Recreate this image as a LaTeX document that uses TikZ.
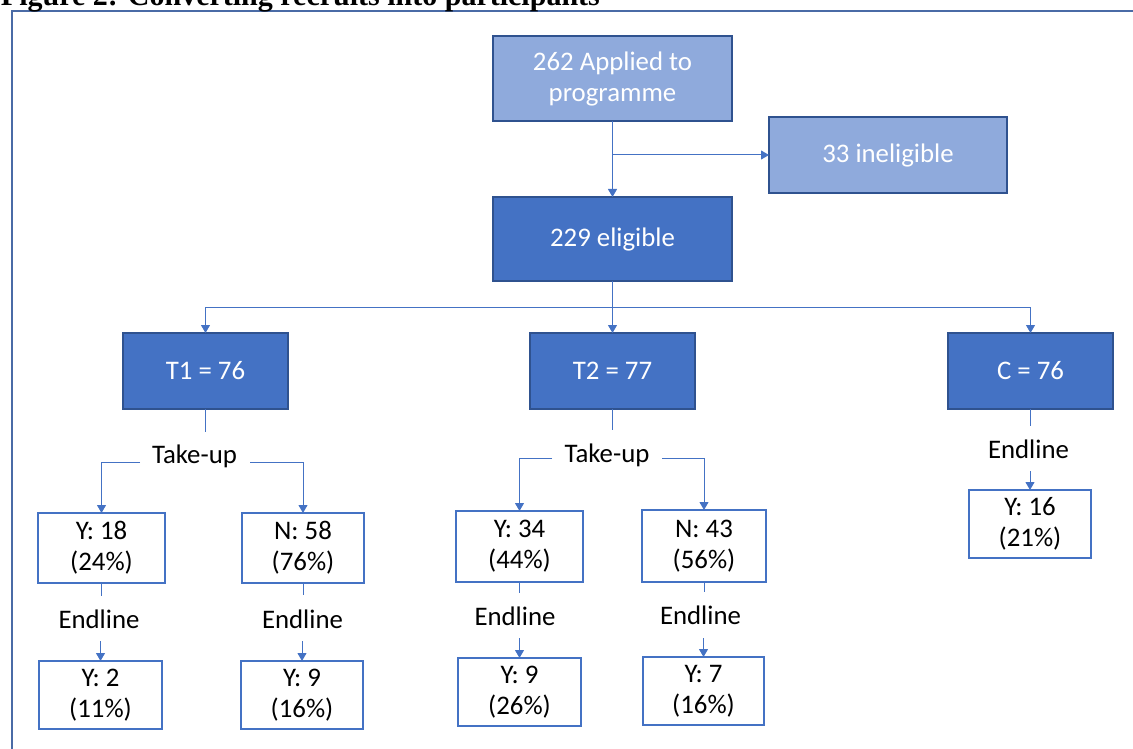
\documentclass[tikz,border=0pt]{standalone}
\usepackage{fontspec}
\setmainfont{Liberation Serif}
\newfontfamily\calibrifont{Carlito}
\usetikzlibrary{arrows.meta}
\definecolor{lightfill}{HTML}{8FAADC}
\definecolor{darkfill}{HTML}{4472C4}
\definecolor{boxedge}{HTML}{2F528F}
\definecolor{lineblue}{HTML}{4472C4}
\definecolor{frameblue}{HTML}{4A6BA6}
\begin{document}
\begin{tikzpicture}[x=1pt,y=-1pt,
  every node/.style={inner sep=0pt, outer sep=0pt},
  txt/.style={font=\calibrifont\fontsize{26.8}{31}\selectfont, align=center},
  lightbox/.style={txt, draw=boxedge, fill=lightfill, text=white, line width=1.2pt},
  darkbox/.style={txt, draw=boxedge, fill=darkfill, text=white, line width=1.2pt},
  whitebox/.style={txt, draw=lineblue, fill=white, text=black, line width=1.5pt},
  lbl/.style={txt, text=black, anchor=base},
  conn/.style={draw=lineblue, line width=1pt},
  arr/.style={conn, -{Triangle[width=9pt,length=8pt]}},
]
\useasboundingbox (0,0) rectangle (1133,749);
% frame and title
\draw[frameblue, line width=1.6pt] (12,11) rectangle (1150,770);
\node[anchor=base west, font=\fontsize{30}{34}\selectfont\bfseries] (title) at (1,6) {Figure 2: Converting recruits into participants};

% top level
\node[lightbox, minimum width=239pt, minimum height=85pt] (app) at (612.5,78.5) {262 Applied to\\programme};
\node[lightbox, minimum width=238pt, minimum height=76pt] (inel) at (888,155) {33 ineligible};
\node[darkbox, minimum width=239pt, minimum height=84pt] (elig) at (612.5,239) {229 eligible};

\node[darkbox, minimum width=165pt, minimum height=76pt] (t1) at (205.5,371) {T1 = 76};
\node[darkbox, minimum width=165pt, minimum height=76pt] (t2) at (612.5,371) {T2 = 77};
\node[darkbox, minimum width=165pt, minimum height=76pt] (c) at (1030.5,371) {C = 76};

% take-up boxes
\node[whitebox, minimum width=127pt, minimum height=70pt] (y18) at (101.5,548) {Y: 18\\(24\%)};
\node[whitebox, minimum width=122pt, minimum height=70pt] (n58) at (303,548) {N: 58\\(76\%)};
\node[whitebox, minimum width=127pt, minimum height=71pt] (y34) at (519.5,546.5) {Y: 34\\(44\%)};
\node[whitebox, minimum width=124pt, minimum height=72pt] (n43) at (704,546) {N: 43\\(56\%)};

% endline boxes
\node[whitebox, minimum width=123pt, minimum height=68pt] (y2) at (100.5,695) {Y: 2\\(11\%)};
\node[whitebox, minimum width=122pt, minimum height=68pt] (y9a) at (302,695) {Y: 9\\(16\%)};
\node[whitebox, minimum width=123pt, minimum height=68pt] (y9b) at (519.5,692) {Y: 9\\(26\%)};
\node[whitebox, minimum width=121pt, minimum height=68pt] (y7) at (703.5,691) {Y: 7\\(16\%)};
\node[whitebox, minimum width=122pt, minimum height=68pt] (y16) at (1030,524) {Y: 16\\(21\%)};

% labels
\node[lbl] (tk1) at (194.5,463) {Take-up};
\node[lbl] (tk2) at (607,462) {Take-up};
\node[lbl] (e1) at (99,628) {Endline};
\node[lbl] (e2) at (302.5,628) {Endline};
\node[lbl] (e3) at (515,625) {Endline};
\node[lbl] (e4) at (700.5,624) {Endline};
\node[lbl] (e5) at (1028.5,458) {Endline};

% connectors top
\draw[arr] (app.south) -- (elig.north);
\coordinate (br) at (612.5,155);
\draw[arr] (br) -- (inel.west);
\coordinate (hub) at (612.5,307);
\draw[conn] (elig.south) -- (hub);
\draw[arr] (hub) -| (t1.north);
\draw[arr] (hub) -- (t2.north);
\draw[arr] (hub) -| (c.north);

% T1 branch
\coordinate (t1s) at (205.5,432);
\draw[conn] (t1.south) -- (t1s);
\coordinate (tk1l) at (140,462);
\coordinate (tk1r) at (250,462);
\draw[arr] (tk1l) -| (y18.north);
\draw[arr] (tk1r) -| (n58.north);
\coordinate (y18s) at (101.5,596);
\draw[conn] (y18.south) -- (y18s);
\coordinate (e1a) at (100.5,641);
\draw[arr] (e1a) -- (y2.north);
\coordinate (n58s) at (303,595);
\draw[conn] (n58.south) -- (n58s);
\coordinate (e2a) at (302,641);
\draw[arr] (e2a) -- (y9a.north);

% T2 branch
\coordinate (t2s) at (612.5,430);
\draw[conn] (t2.south) -- (t2s);
\coordinate (tk2l) at (552,458);
\coordinate (tk2r) at (662,458);
\draw[arr] (tk2l) -| (y34.north);
\draw[arr] (tk2r) -| (n43.north);
\coordinate (y34s) at (519.5,593);
\draw[conn] (y34.south) -- (y34s);
\coordinate (e3a) at (519.5,638);
\draw[arr] (e3a) -- (y9b.north);
\coordinate (n43s) at (704,592);
\draw[conn] (n43.south) -- (n43s);
\coordinate (e4a) at (703.5,638);
\draw[arr] (e4a) -- (y7.north);

% C branch
\coordinate (cs) at (1030.5,426);
\draw[conn] (c.south) -- (cs);
\coordinate (e5a) at (1030,471);
\draw[arr] (e5a) -- (y16.north);
\end{tikzpicture}
\end{document}
